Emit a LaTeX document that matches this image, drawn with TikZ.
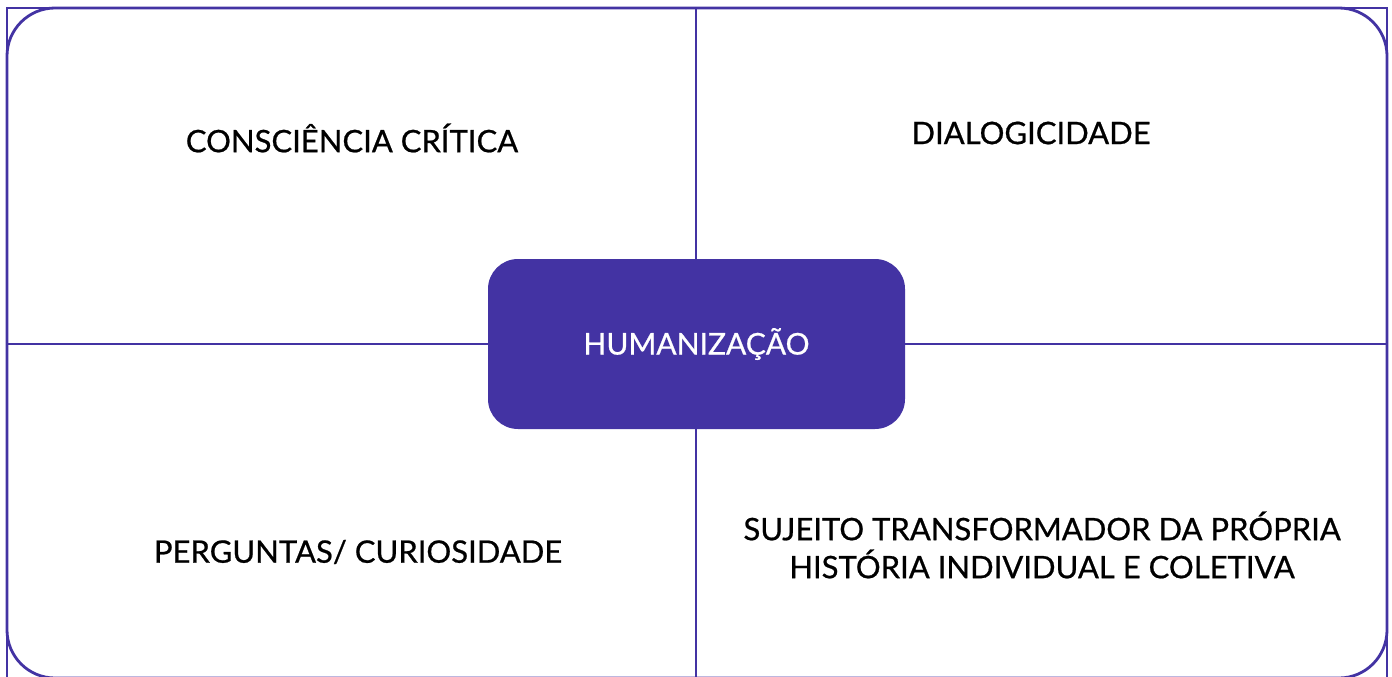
\documentclass[tikz,border=0pt]{standalone}
\usepackage{fontspec}
\setmainfont{Lato}
\newfontfamily\medfont{Lato}[FakeBold=0.7]
\definecolor{ink}{HTML}{4333A3}
\tikzset{
  frame/.style={draw=ink, line width=2.8pt, rounded corners=48pt},
  thinframe/.style={draw=ink, line width=1.3pt},
  divider/.style={draw=ink, line width=2.8pt},
  hub/.style={fill=ink, text=white, rounded corners=30pt, minimum width=417pt, minimum height=170pt, inner sep=0pt, font=\medfont\fontsize{30}{34}\selectfont},
  quadlabel/.style={text=black, align=center, inner sep=0pt, font=\medfont\fontsize{31}{38}\selectfont},
}
\begin{document}
\begin{tikzpicture}[x=1pt,y=-1pt]
\useasboundingbox (0,0) rectangle (1392,677);
\begin{scope}
\clip (0,0) rectangle (1392,677);
\draw[thinframe] (7,8) rectangle (1387,682);
\draw[frame] (7,8) rectangle (1387,678);
\coordinate (top) at (696,8);
\coordinate (bottom) at (696,680);
\coordinate (left) at (7,344);
\coordinate (right) at (1387,344);
\draw[divider] (top) -- (bottom);
\draw[divider] (left) -- (right);
\end{scope}
\node[hub] (hub) at (696.5,344) {HUMANIZAÇÃO};
\node[quadlabel] (cc) at (352,138) {CONSCIÊNCIA CRÍTICA};
\node[quadlabel] (dia) at (1031,133) {DIALOGICIDADE};
\node[quadlabel] (per) at (358,552) {PERGUNTAS/ CURIOSIDADE};
\node[quadlabel] (suj) at (1042,545) {SUJEITO TRANSFORMADOR DA PRÓPRIA\\HISTÓRIA INDIVIDUAL E COLETIVA};
\end{tikzpicture}
\end{document}
